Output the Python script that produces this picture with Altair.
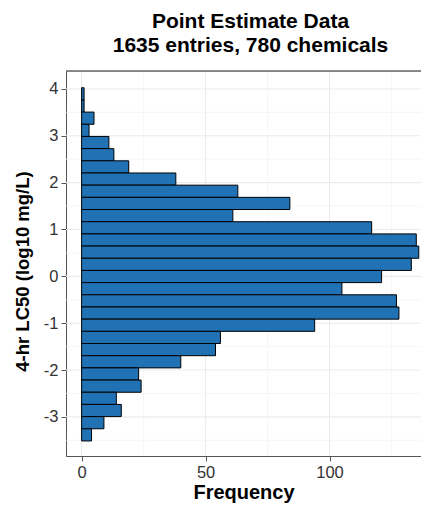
import altair as alt
import pandas as pd

# Histogram data, bins from top to bottom
counts = [1, 1, 5, 3, 11, 13, 19, 38, 63, 84, 61, 117, 135, 136, 133, 121,
          105, 127, 128, 94, 56, 54, 40, 23, 24, 14, 16, 9, 4]
top_edge = 4.026
bin_width = 0.26

x_ticks = [0, 50, 100]
y_ticks = [-3, -2, -1, 0, 1, 2, 3, 4]
x_major_grid = [0, 50, 100]
x_minor_grid = [25, 75, 125]
y_major_grid = [-3, -2, -1, 0, 1, 2, 3, 4]
y_minor_grid = [-3.5, -2.5, -1.5, -0.5, 0.5, 1.5, 2.5, 3.5]

x_domain = [-6.3, 136.9]
y_domain = [-3.835, 4.383]

title_lines = ["Point Estimate Data", "1635 entries, 780 chemicals"]

rows = []
for i, c in enumerate(counts):
    hi = top_edge - i * bin_width
    lo = hi - bin_width
    rows.append({"lo": lo, "hi": hi, "count": c})
df = pd.DataFrame(rows)

W, H = 355, 385
FONT = "Liberation Sans"

xs = alt.Scale(domain=x_domain, nice=False, zero=False)
ys = alt.Scale(domain=y_domain, nice=False, zero=False)

grid_col = "#ebebeb"

xg_major = alt.Chart(pd.DataFrame({"v": x_major_grid})).mark_rule(color=grid_col, strokeWidth=1.1).encode(
    x=alt.X("v:Q", scale=xs))
xg_minor = alt.Chart(pd.DataFrame({"v": x_minor_grid})).mark_rule(color="#f2f2f2", strokeWidth=0.7).encode(
    x=alt.X("v:Q", scale=xs))
yg_major = alt.Chart(pd.DataFrame({"v": y_major_grid})).mark_rule(color=grid_col, strokeWidth=1.1).encode(
    y=alt.Y("v:Q", scale=ys))
yg_minor = alt.Chart(pd.DataFrame({"v": y_minor_grid})).mark_rule(color="#f2f2f2", strokeWidth=0.7).encode(
    y=alt.Y("v:Q", scale=ys))

bars = alt.Chart(df).mark_bar(color="#2171b5", stroke="black", strokeWidth=1, clip=True).encode(
    x=alt.X("count:Q", scale=xs,
            axis=alt.Axis(values=x_ticks, grid=False, title="Frequency",
                          domainColor="#555555", tickColor="#555555", tickSize=5,
                          labelFontSize=16.5, labelColor="#333333", labelFont=FONT, labelPadding=3,
                          titleFontSize=20, titleFont=FONT, titleFontWeight="bold",
                          titleColor="black", titlePadding=2)),
    x2=alt.datum(0),
    y=alt.Y("hi:Q", scale=ys,
            axis=alt.Axis(values=y_ticks, grid=False, title="4-hr LC50 (log10 mg/L)",
                          labelExpr="datum.value < 0 ? '-' + abs(datum.value) : '' + datum.value",
                          domainColor="#555555", tickColor="#555555", tickSize=5,
                          labelFontSize=16.5, labelColor="#333333", labelFont=FONT, labelPadding=3,
                          titleFontSize=18.5, titleFont=FONT, titleFontWeight="bold",
                          titleColor="black", titlePadding=11, titleY=200)),
    y2="lo:Q",
)

top_border = alt.Chart(pd.DataFrame({"v": [0]})).mark_rule(color="#666666", strokeWidth=1.3).encode(
    x=alt.value(0), x2=alt.value(W), y=alt.value(0))

chart = alt.layer(xg_minor, xg_major, yg_minor, yg_major, bars, top_border).properties(
    width=W, height=H,
    title=alt.TitleParams(text=title_lines, fontSize=21, font=FONT, fontWeight="bold",
                          color="black", anchor="middle", lineHeight=24, offset=14, dx=7),
    autosize=alt.AutoSizeParams(type="none"),
    padding={"left": 58, "top": 63, "right": 0, "bottom": 50},
).configure_view(stroke=None).configure(background="white")

chart.save("out.html", embed_options={"renderer": "svg", "actions": False})
